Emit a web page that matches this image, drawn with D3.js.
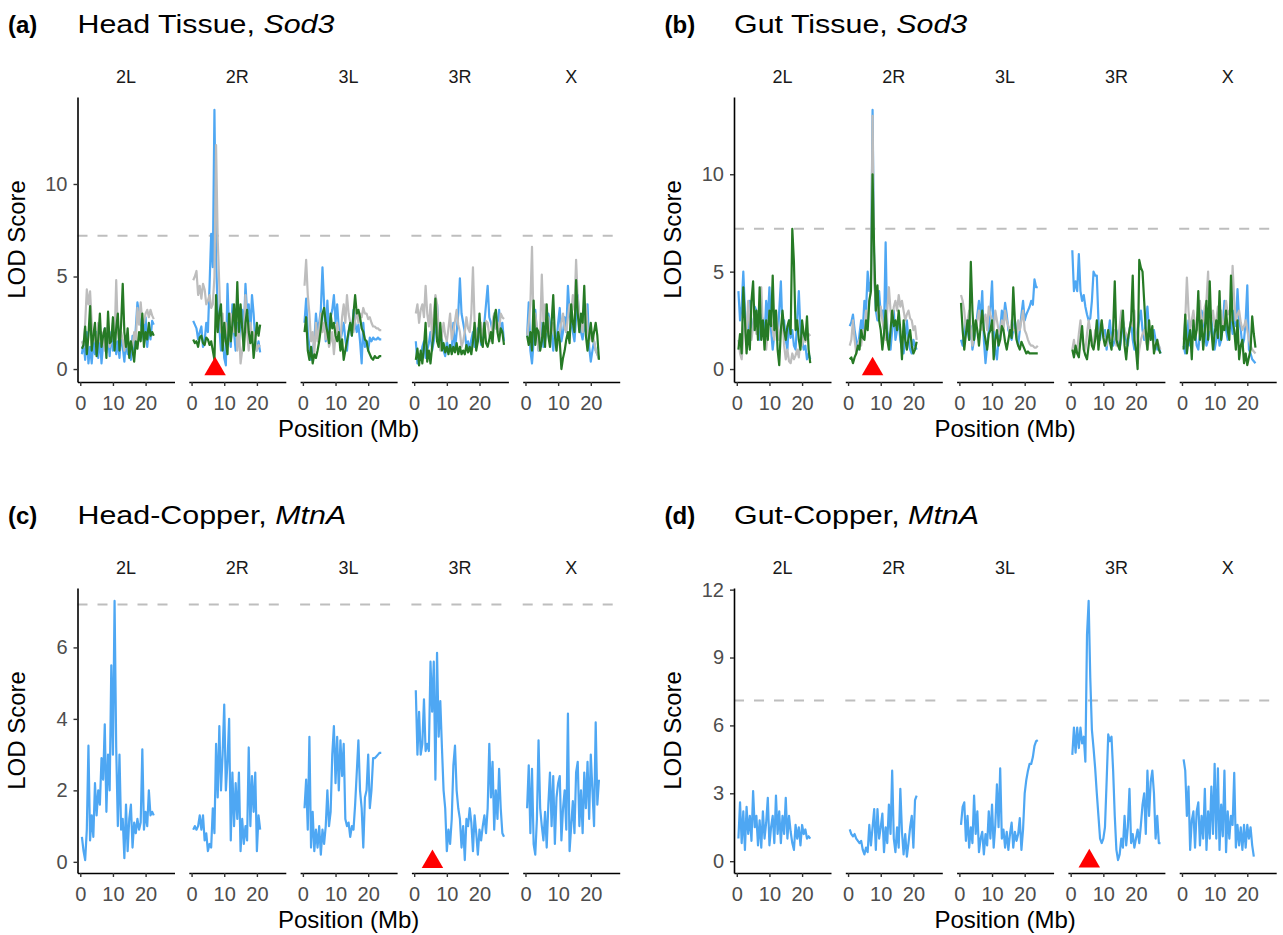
<!DOCTYPE html>
<html>
<head>
<meta charset="utf-8">
<script src="https://cdn.jsdelivr.net/npm/d3@7"></script>
<style>
  body { margin: 0; background: #fff; }
  svg { display: block; }
</style>
</head>
<body>
<div id="chart"></div>
<script>
// chromosome arms and marker positions (Mb) along each arm
const chroms = ["2L", "2R", "3L", "3R", "X"];
const pos2L = [0.5,1,1.5,2,2.5,3,3.5,4,4.5,5,5.5,6,6.5,7,7.5,8,8.5,9,9.5,10,10.5,11,11.5,12,12.5,13,13.5,14,14.5,15,15.5,16,16.5,17,17.5,18,18.5,19,19.5,20,20.5,21,21.5,22,22.5];
const pos2R = [0.5,1,1.5,2,2.5,3,3.5,4,4.5,5,5.5,6,6.5,7,7.5,8,8.5,9,9.5,10,10.5,11,11.5,12,12.5,13,13.5,14,14.5,15,15.5,16,16.5,17,17.5,18,18.5,19,19.5,20,20.5,21];
const pos3L = [0.5,1,1.5,2,2.5,3,3.5,4,4.5,5,5.5,6,6.5,7,7.5,8,8.5,9,9.5,10,10.5,11,11.5,12,12.5,13,13.5,14,14.5,15,15.5,16,16.5,17,17.5,18,18.5,19,19.5,20,20.5,21,21.5,22,22.5,23,23.5,24];
const pos3R = [0.5,1,1.5,2,2.5,3,3.5,4,4.5,5,5.5,6,6.5,7,7.5,8,8.5,9,9.5,10,10.5,11,11.5,12,12.5,13,13.5,14,14.5,15,15.5,16,16.5,17,17.5,18,18.5,19,19.5,20,20.5,21,21.5,22,22.5,23,23.5,24,24.5,25,25.5,26,26.5,27,27.5];
const posX  = [0.5,1,1.5,2,2.5,3,3.5,4,4.5,5,5.5,6,6.5,7,7.5,8,8.5,9,9.5,10,10.5,11,11.5,12,12.5,13,13.5,14,14.5,15,15.5,16,16.5,17,17.5,18,18.5,19,19.5,20,20.5,21,21.5,22,22.5];
const positions = { "2L": pos2L, "2R": pos2R, "3L": pos3L, "3R": pos3R, "X": posX };

const xTicks = [0, 10, 20];

// (a) head tissue, Sod3
const headSod3Blue = {
  "2L": [0.8,1.5,0.5,2.0,0.3,1.2,0.3,1.5,0.8,2.0,0.6,1.8,0.3,1.4,2.2,0.9,1.8,0.7,2.0,1.0,2.4,0.8,1.5,0.6,1.8,1.2,0.4,1.6,0.8,1.4,0.5,1.8,1.0,2.2,3.6,3.0,2.5,2.0,1.5,2.8,1.2,2.2,1.6,2.6,2.4],
  "2R": [2.6,2.4,2.2,1.6,2.0,2.3,1.2,1.5,2.5,2.0,4.5,7.3,5.5,14.0,6.0,3.0,2.2,1.0,2.0,0.6,0.2,4.6,2.0,1.2,3.5,2.0,1.0,2.5,1.5,2.5,3.2,2.0,4.6,3.0,3.5,2.0,4.0,3.0,1.5,1.0,1.5,0.9],
  "3L": [2.5,3.8,2.0,1.2,0.5,1.0,1.5,3.0,2.0,2.5,3.2,5.5,3.5,1.5,3.7,2.0,2.8,3.2,4.0,2.5,3.5,2.2,1.5,2.0,2.5,1.6,1.0,2.0,2.5,1.8,3.2,2.5,2.0,2.4,1.5,0.3,2.5,1.2,1.5,1.0,1.7,1.5,1.7,1.6,1.6,1.7,1.6,1.6],
  "3R": [1.5,0.3,0.8,0.5,1.2,1.5,0.6,1.0,1.4,2.0,1.0,1.5,2.2,3.5,2.0,1.2,1.6,1.0,0.7,1.5,1.0,1.3,1.0,2.5,1.0,2.0,3.0,4.9,3.0,2.5,2.0,1.2,1.5,1.0,1.6,2.0,1.2,1.5,2.2,2.0,1.3,1.8,2.5,3.5,4.5,2.8,2.5,2.0,3.0,2.2,2.5,3.2,2.0,2.5,1.5],
  "X":  [1.8,3.6,1.0,0.3,1.5,3.2,2.0,1.0,1.8,2.5,1.2,1.5,2.2,3.0,2.5,2.0,1.0,2.0,1.5,2.5,3.3,1.5,2.0,2.8,2.0,4.5,3.0,2.5,2.0,1.5,2.8,4.0,2.5,2.0,1.6,2.5,2.0,3.5,1.2,0.4,1.0,1.5,1.0,0.8,0.6]
};
const headSod3Gray = {
  "2L": [1.5,1.2,2.5,4.3,3.5,4.2,2.5,1.5,2.0,1.0,2.5,1.5,2.0,1.8,1.0,2.2,2.0,1.2,1.6,2.5,1.5,4.8,2.0,1.4,2.0,1.6,1.0,1.8,1.5,0.8,1.5,1.2,2.0,1.5,3.3,2.4,3.6,2.5,2.5,3.0,3.2,2.8,3.2,2.9,2.7],
  "2R": [4.8,5.0,5.3,4.0,4.5,3.8,4.6,4.3,3.5,3.7,4.0,3.3,3.5,5.0,12.1,7.0,4.5,2.0,3.0,1.5,2.5,1.8,1.5,3.0,2.2,2.0,3.0,1.0,2.2,0.3,1.0,1.5,4.0,2.0,1.0,2.5,1.8,2.0,1.5,1.0,1.3,1.2],
  "3L": [4.5,5.9,4.0,3.0,1.5,2.0,0.8,2.5,1.5,2.2,3.0,2.0,2.5,1.6,2.0,1.2,1.5,2.0,0.8,1.8,2.5,1.8,1.5,2.8,3.5,2.5,4.0,3.0,2.5,2.2,2.0,2.6,3.2,2.5,3.0,2.8,3.3,3.0,3.0,2.7,2.8,2.5,2.3,2.3,2.2,2.2,2.1,2.1],
  "3R": [3.0,3.5,2.5,3.2,3.5,2.8,4.5,3.0,2.3,3.5,1.5,3.0,4.0,3.5,2.2,1.0,1.8,2.5,1.8,1.5,2.2,3.0,1.6,2.0,2.6,3.2,2.4,2.0,1.2,1.5,2.0,2.8,2.2,2.0,3.0,5.5,2.5,2.0,1.5,2.2,2.5,1.8,2.0,2.6,2.5,1.8,1.5,2.5,3.0,2.2,2.5,2.0,3.0,2.8,2.7],
  "X":  [1.8,2.5,3.5,6.6,2.0,3.0,2.2,1.0,2.0,5.1,2.5,3.5,2.0,2.8,1.5,2.0,2.5,1.8,1.0,1.5,2.0,2.5,3.0,2.2,2.0,2.8,3.5,3.0,4.0,3.2,5.9,3.8,3.0,2.5,2.0,2.8,3.5,2.2,1.5,1.8,2.0,1.5,1.0,0.8,0.5]
};
const headSod3Green = {
  "2L": [1.1,1.3,2.3,0.8,1.8,3.4,1.0,1.8,2.5,0.7,1.6,3.0,1.2,1.8,2.2,0.6,3.1,1.4,1.5,2.8,1.0,2.2,3.0,1.0,2.4,4.6,2.0,1.2,2.2,0.6,1.5,1.0,0.4,1.5,1.1,2.0,1.5,3.0,1.2,2.0,1.6,2.5,1.8,2.0,1.8],
  "2R": [1.6,1.4,1.5,1.2,1.7,1.8,1.4,1.3,1.7,1.6,1.3,1.5,1.0,0.5,4.0,2.0,3.0,3.5,1.0,2.5,1.5,0.8,3.0,1.5,2.4,3.5,1.8,4.7,2.0,3.5,2.2,1.0,2.5,3.2,2.0,1.4,2.0,0.6,1.5,2.5,1.8,2.4],
  "3L": [2.0,2.8,1.0,0.5,1.2,0.3,0.8,0.6,1.0,1.5,2.2,3.0,3.3,2.5,2.0,1.4,3.0,2.2,2.5,1.8,1.5,2.0,1.0,1.6,0.5,1.0,1.5,2.0,2.5,1.8,3.0,4.0,3.0,3.2,2.8,2.2,2.0,1.6,1.5,1.0,0.8,0.6,0.5,0.7,0.6,0.6,0.7,0.7],
  "3R": [0.5,1.1,0.2,1.0,0.3,1.2,2.5,0.4,1.0,0.3,1.2,2.0,3.8,1.5,1.2,2.5,1.0,1.4,0.9,1.2,0.8,1.3,0.8,1.2,0.9,1.4,0.8,1.2,0.8,1.0,0.8,1.3,0.9,1.2,0.8,1.5,2.5,1.0,1.5,3.0,1.5,1.2,2.5,1.4,1.2,1.6,2.0,1.4,2.8,3.2,2.0,1.5,2.2,2.0,1.3],
  "X":  [1.8,1.3,2.0,1.0,3.7,1.3,2.2,2.0,1.0,1.5,2.5,1.2,3.5,1.8,1.2,2.5,4.0,1.8,1.0,2.0,1.5,0.0,0.6,1.0,1.6,2.0,1.4,3.5,2.5,2.0,4.8,3.0,2.0,3.0,2.5,4.5,1.8,1.0,1.8,2.5,1.5,2.0,2.5,1.8,0.5]
};

// (b) gut tissue, Sod3
const gutSod3Blue = {
  "2L": [4.0,2.5,3.2,5.0,3.0,2.0,1.5,3.5,2.2,2.0,3.2,3.0,1.8,1.5,2.8,2.5,1.5,3.5,2.5,4.2,2.0,1.0,1.8,2.5,1.5,3.0,4.5,2.0,2.5,1.5,1.0,2.5,1.6,2.0,1.2,1.0,2.5,4.0,2.0,1.5,1.0,1.2,0.5,0.8,0.5],
  "2R": [2.2,2.4,2.8,2.0,1.5,1.0,1.8,2.5,2.0,3.5,3.0,5.0,4.0,4.5,13.3,5.0,3.0,2.5,4.0,2.8,3.0,2.0,6.5,2.0,1.5,1.0,2.0,3.0,1.5,2.0,2.5,1.5,1.0,0.8,1.5,2.5,1.5,1.0,0.8,1.5,1.2,1.0],
  "3L": [1.5,1.2,1.8,2.5,2.0,1.5,2.2,1.0,1.5,2.0,2.8,3.5,2.5,4.0,1.5,0.3,1.2,2.0,3.0,4.5,2.0,1.0,0.5,1.5,2.0,3.0,2.5,3.4,2.8,2.0,1.8,1.5,2.0,2.5,1.8,1.2,2.0,2.8,3.5,2.5,2.8,3.0,3.2,3.5,3.3,4.6,4.2,4.2],
  "3R": [6.1,4.0,4.5,4.0,5.9,4.0,3.5,3.8,3.2,2.8,2.5,2.6,3.5,5.0,4.8,4.8,2.5,1.5,2.2,1.8,2.0,1.0,1.8,2.5,1.5,1.2,1.5,2.0,1.5,1.0,1.6,2.5,2.0,1.5,1.2,2.0,2.5,1.5,1.0,1.5,2.0,2.5,3.0,2.0,1.5,2.5,3.2,2.0,1.5,1.8,2.0,1.5,1.0,1.2,0.8],
  "X":  [1.2,0.8,1.5,2.5,1.2,1.5,2.2,2.0,1.2,1.0,1.8,3.0,2.5,2.0,1.2,1.5,2.0,2.5,1.8,1.0,1.5,2.0,1.2,1.5,2.2,3.5,2.0,1.5,2.0,2.5,1.8,3.0,2.2,4.1,2.5,2.0,1.2,1.5,2.5,4.3,1.0,0.8,0.5,0.4,0.3]
};
const gutSod3Gray = {
  "2L": [1.5,0.8,0.5,1.6,2.5,1.8,3.5,2.2,1.5,2.2,3.0,1.8,2.0,3.0,4.2,2.0,1.5,1.0,2.0,3.0,2.5,2.0,1.5,3.0,2.2,1.5,2.0,2.5,1.2,0.5,1.0,0.4,0.3,0.8,0.5,0.7,1.0,0.6,1.5,1.2,1.8,1.4,1.7,1.8,1.7],
  "2R": [1.2,1.5,2.5,1.5,0.8,1.2,1.5,1.2,2.0,1.6,3.0,2.2,3.5,4.0,13.0,4.5,3.5,3.0,2.5,3.2,2.5,2.0,1.5,3.0,4.2,3.0,2.5,3.2,3.5,3.0,3.8,3.2,3.5,3.0,2.5,2.8,3.0,2.6,2.5,2.0,2.2,1.5],
  "3L": [3.8,3.5,3.0,2.0,2.5,3.0,2.0,1.2,1.8,2.0,2.5,3.0,2.2,2.0,2.5,2.8,2.0,3.2,2.8,2.5,2.0,3.0,2.5,2.0,1.8,2.5,2.0,3.0,2.5,2.2,1.8,2.5,2.0,2.0,1.6,2.5,2.0,2.5,3.0,2.0,1.8,1.5,1.3,1.2,1.2,1.1,1.1,1.2],
  "3R": [1.0,1.5,0.8,1.0,1.8,2.5,1.5,1.2,1.0,1.8,2.5,2.0,1.5,1.2,2.0,1.6,1.5,2.0,2.5,1.8,1.5,1.2,2.0,1.6,1.5,1.8,2.0,1.2,1.5,2.2,3.0,2.5,2.0,1.8,1.5,2.0,2.5,2.2,3.0,1.5,0.3,1.0,1.5,1.8,2.0,1.5,1.0,1.5,2.0,1.6,1.0,1.2,1.5,1.2,1.0],
  "X":  [1.5,2.5,4.7,3.0,2.0,2.5,3.0,2.2,2.0,2.8,3.5,2.2,2.5,3.2,3.5,5.0,2.0,2.5,3.0,2.2,2.5,3.2,2.8,3.0,2.0,2.5,3.5,2.8,3.0,2.5,5.3,3.5,2.5,2.8,3.0,2.4,2.0,2.2,2.5,2.0,1.5,1.2,1.0,0.9,0.8]
};
const gutSod3Green = {
  "2L": [1.0,1.8,0.8,4.2,2.5,0.8,2.0,1.0,3.5,4.5,2.0,3.0,1.5,4.2,1.5,2.5,1.0,2.5,1.5,3.0,2.2,4.8,2.0,3.0,1.0,0.2,2.0,3.0,2.0,1.5,2.2,2.5,1.8,7.2,5.5,2.0,2.5,1.5,1.0,2.5,1.8,1.5,2.7,1.0,0.3],
  "2R": [0.5,0.6,0.3,0.6,0.8,1.2,1.0,2.0,1.6,1.5,2.5,2.0,3.5,4.0,10.0,6.0,3.0,4.3,2.5,2.0,1.0,1.8,3.0,1.5,1.0,2.0,3.0,2.2,2.5,2.0,3.0,2.0,0.5,2.5,1.5,1.0,1.6,2.0,1.2,0.8,1.0,1.4],
  "3L": [3.4,2.0,1.0,1.8,2.5,1.5,5.5,3.0,1.5,2.5,2.0,1.2,2.2,3.0,2.0,1.5,1.0,1.8,2.0,2.5,0.5,1.5,2.0,1.2,1.5,2.2,2.0,1.4,1.0,1.5,2.0,1.6,4.2,2.5,1.5,1.2,1.0,1.4,1.2,1.0,0.8,0.9,0.8,0.8,0.8,0.8,0.8,0.8],
  "3R": [1.0,0.6,1.2,0.8,0.6,1.5,2.2,1.0,0.7,0.5,1.2,2.0,1.2,1.0,1.5,2.5,1.0,1.8,2.5,1.6,1.2,1.5,2.0,1.4,1.0,2.0,4.5,1.5,1.2,1.0,2.0,3.0,1.2,0.5,1.5,2.0,2.5,4.8,1.5,1.0,0.0,5.6,5.2,5.0,3.5,2.0,1.0,2.5,1.5,2.2,0.8,1.2,1.5,1.0,0.8],
  "X":  [1.0,2.8,0.8,1.5,2.0,0.5,2.5,1.5,2.0,4.0,1.5,2.5,1.0,2.0,3.5,1.5,4.5,2.0,1.0,1.8,2.5,1.6,4.0,1.5,2.2,2.0,3.0,2.0,1.5,4.8,2.5,2.0,1.0,2.5,0.5,1.2,1.5,0.3,0.8,0.2,0.6,1.0,2.7,1.8,1.1]
};

// (c) head, copper, MtnA
const headCopperBlue = {
  "2L": [0.7,0.3,0.05,0.9,3.25,0.6,1.3,0.7,2.2,1.3,2.0,1.6,2.9,2.3,3.85,1.4,3.0,2.0,5.5,3.0,7.3,3.2,1.0,3.0,0.9,1.2,0.1,1.6,0.3,1.2,1.6,0.4,1.1,0.8,1.2,0.9,1.1,3.15,0.9,1.4,1.0,2.0,1.3,1.4,1.3],
  "2R": [0.9,1.0,0.9,1.0,1.3,0.9,1.3,0.6,0.8,0.3,0.5,0.4,1.5,0.8,3.3,1.8,3.8,2.0,3.0,4.4,2.0,2.8,4.0,0.6,2.5,1.0,2.2,1.2,2.5,0.3,1.2,0.5,1.0,0.6,3.2,1.0,2.4,1.4,2.5,0.3,1.3,0.9],
  "3L": [1.5,2.3,0.9,3.5,0.4,1.4,0.3,0.9,0.4,1.0,0.2,0.9,0.5,1.0,2.0,1.0,1.4,3.0,3.8,2.2,3.5,2.0,3.4,2.4,3.3,1.2,1.0,1.1,0.7,1.0,0.9,1.6,2.5,3.4,2.0,1.5,0.4,1.8,2.0,3.0,1.5,2.0,2.9,2.9,2.95,3.0,3.05,3.05],
  "3R": [4.8,3.0,4.2,3.0,3.3,4.55,3.1,3.3,3.1,5.6,4.2,5.6,2.3,5.85,3.5,4.5,3.2,2.0,1.5,0.3,0.9,0.5,1.2,2.7,3.25,2.0,1.5,1.2,0.4,1.0,0.05,1.2,1.0,1.5,1.1,0.3,1.3,0.8,0.2,0.9,0.6,1.0,1.3,0.8,1.5,3.3,1.8,2.8,0.9,2.0,1.2,2.6,1.5,0.8,0.7],
  "X":  [1.5,2.7,0.8,2.6,0.5,0.2,1.2,3.4,1.5,1.0,0.6,1.4,0.4,1.6,2.5,1.0,2.4,0.5,1.8,2.2,2.4,0.6,1.5,2.0,0.9,4.15,0.3,1.0,1.7,0.8,2.5,2.8,1.0,2.0,0.8,2.5,1.5,2.8,1.2,3.0,2.0,1.0,3.9,1.6,2.3]
};

// (d) gut, copper, MtnA
const gutCopperBlue = {
  "2L": [1.0,2.6,0.8,2.2,0.5,2.4,1.2,2.0,0.9,3.1,1.5,2.0,0.7,1.8,0.6,2.2,1.0,1.7,2.8,0.7,1.5,2.0,0.8,2.9,1.2,2.2,0.8,2.0,1.2,2.8,1.0,2.0,1.3,0.8,0.5,1.6,1.0,1.5,0.7,1.6,1.2,1.4,1.0,1.1,1.0],
  "2R": [1.4,1.2,1.1,1.2,1.0,0.9,0.8,0.9,0.5,0.3,0.6,0.4,1.6,0.7,1.5,2.3,0.5,2.3,1.0,1.5,2.1,0.4,1.5,0.8,2.5,1.2,4.0,1.0,0.4,1.5,0.6,3.2,1.3,0.3,1.2,0.2,0.8,1.5,2.0,0.6,2.7,2.9],
  "3L": [1.6,2.4,2.6,0.9,2.0,0.6,1.5,0.8,2.9,1.2,2.2,0.4,1.0,1.3,0.3,1.2,0.7,2.2,1.0,2.5,0.6,1.6,3.4,1.5,4.1,1.0,1.4,0.6,1.3,0.5,1.2,1.7,0.6,1.3,0.9,1.2,1.9,0.5,1.4,3.0,3.6,4.0,4.3,4.3,4.6,5.1,5.3,5.35],
  "3R": [4.7,5.9,4.8,5.9,5.0,5.9,5.2,5.5,4.4,10.0,11.5,8.1,5.8,5.0,4.1,3.0,2.0,1.0,0.8,1.0,1.5,3.5,5.6,5.3,5.5,4.0,2.0,0.5,0.05,0.3,1.0,0.6,2.0,0.7,1.5,3.2,0.8,1.2,0.6,1.0,1.4,0.8,1.6,2.5,3.0,1.2,4.0,2.0,3.5,4.0,3.0,1.0,2.0,0.8,0.8],
  "X":  [4.5,4.0,2.0,3.3,0.5,1.8,2.2,0.6,2.2,2.6,0.7,2.0,1.0,3.2,0.5,2.2,1.0,3.3,1.2,4.3,1.0,4.1,0.5,2.5,1.1,4.0,0.4,2.2,1.0,2.0,1.6,3.9,0.6,1.6,0.7,1.5,0.5,1.6,0.6,1.6,1.0,1.5,0.7,0.2]
};

const yTicksA = [0, 5, 10];
const yTicksB = [0, 5, 10];
const yTicksC = [0, 2, 4, 6];
const yTicksD = [0, 3, 6, 9, 12];

const colors = { blue: "#4ea7f3", gray: "#bdbdbd", green: "#267a25" };
const FONT = "'Liberation Sans', Arial, Helvetica, sans-serif";

const panels = [
  { tag: "(a)", title: "Head Tissue, ", gene: "Sod3", yTicks: yTicksA, threshold: 7.2,
    series: [["blue", headSod3Blue], ["gray", headSod3Gray], ["green", headSod3Green]],
    marker: { chrom: "2R", pos: 7.2 } },
  { tag: "(b)", title: "Gut Tissue, ", gene: "Sod3", yTicks: yTicksB, threshold: 7.2,
    series: [["blue", gutSod3Blue], ["gray", gutSod3Gray], ["green", gutSod3Green]],
    marker: { chrom: "2R", pos: 7.5 } },
  { tag: "(c)", title: "Head-Copper, ", gene: "MtnA", yTicks: yTicksC, threshold: 7.2,
    series: [["blue", headCopperBlue]],
    marker: { chrom: "3R", pos: 5.6 } },
  { tag: "(d)", title: "Gut-Copper, ", gene: "MtnA", yTicks: yTicksD, threshold: 7.1,
    series: [["blue", gutCopperBlue]],
    marker: { chrom: "3R", pos: 5.7 } }
];

document.addEventListener("DOMContentLoaded", () => {
  const width = 1283;
  const height = 935;
  const colLeft = [77.5, 734];
  const rowTop = [97, 588];
  const plotH = 285;
  const facetW = 97;
  const facetStep = 111.3;

  const svg = d3.select("#chart")
    .append("svg")
    .attr("width", width)
    .attr("height", height)
    .attr("viewBox", [0, 0, width, height])
    .attr("font-family", FONT);

  // shared x scale for all facets (ggplot style 5% expansion)
  const xExt = d3.extent(d3.merge(chroms.map(c => positions[c])));
  const xPad = (xExt[1] - xExt[0]) * 0.05;
  const x = d3.scaleLinear()
    .domain([xExt[0] - xPad, xExt[1] + xPad])
    .range([0, facetW]);

  panels.forEach((p, i) => {
    const left = colLeft[i % 2];
    const top = rowTop[Math.floor(i / 2)];

    const vals = d3.merge(p.series.flatMap(([, s]) => chroms.map(c => s[c])));
    const yExt = d3.extent(vals);
    const yPad = (yExt[1] - yExt[0]) * 0.05;
    const y = d3.scaleLinear()
      .domain([yExt[0] - yPad, yExt[1] + yPad])
      .range([plotH, 0]);

    // tag + title
    svg.append("text")
      .attr("x", left - 69.5)
      .attr("y", top - 64.5)
      .attr("font-size", 24)
      .attr("font-weight", "bold")
      .attr("fill", "#000")
      .text(p.tag);
    const t = svg.append("text")
      .attr("transform", `translate(${left},${top - 64.5}) scale(1.17,1)`)
      .attr("font-size", 26)
      .attr("fill", "#000");
    t.append("tspan").text(p.title);
    t.append("tspan").attr("font-style", "italic").text(p.gene);

    const g = svg.append("g").attr("transform", `translate(${left},${top})`);

    chroms.forEach((c, k) => {
      const f = g.append("g").attr("transform", `translate(${k * facetStep},0)`);

      f.append("text")
        .attr("x", facetW / 2)
        .attr("y", -14)
        .attr("text-anchor", "middle")
        .attr("font-size", 18)
        .attr("fill", "#1a1a1a")
        .text(c);

      f.append("line")
        .attr("x1", 0).attr("x2", facetW)
        .attr("y1", y(p.threshold)).attr("y2", y(p.threshold))
        .attr("stroke", "#bebebe")
        .attr("stroke-width", 2)
        .attr("stroke-dasharray", "10,10");

      const line = d3.line()
        .defined((d, j) => positions[c][j] !== undefined)
        .x((d, j) => x(positions[c][j]))
        .y(d => y(d));

      p.series.forEach(([col, s]) => {
        f.append("path")
          .datum(s[c])
          .attr("d", line)
          .attr("fill", "none")
          .attr("stroke", colors[col])
          .attr("stroke-width", 2.2)
          .attr("stroke-linejoin", "round");
      });

      if (p.marker.chrom === c) {
        f.append("path")
          .attr("d", d3.symbol(d3.symbolTriangle, 200)())
          .attr("transform", `translate(${x(p.marker.pos)},${y(0)})`)
          .attr("fill", "#ff0000");
      }

      f.append("g")
        .attr("transform", `translate(0,${plotH})`)
        .call(d3.axisBottom(x).tickValues(xTicks).tickSize(4).tickSizeOuter(0).tickPadding(10))
        .call(a => a.attr("font-size", 20).attr("font-family", FONT))
        .call(a => a.select(".domain").attr("stroke", "#000").attr("stroke-width", 1.6))
        .call(a => a.selectAll(".tick line").attr("stroke", "#333").attr("stroke-width", 1.4))
        .call(a => a.selectAll(".tick text").attr("fill", "#4d4d4d"));
    });

    g.append("g")
      .call(d3.axisLeft(y).tickValues(p.yTicks).tickSize(4).tickSizeOuter(0).tickPadding(6))
      .call(a => a.attr("font-size", 20).attr("font-family", FONT))
      .call(a => a.select(".domain").attr("stroke", "#000").attr("stroke-width", 1.6))
      .call(a => a.selectAll(".tick line").attr("stroke", "#333").attr("stroke-width", 1.4))
      .call(a => a.selectAll(".tick text").attr("fill", "#4d4d4d"));

    // axis titles
    svg.append("text")
      .attr("x", left + (4 * facetStep + facetW) / 2)
      .attr("y", top + plotH + 55)
      .attr("text-anchor", "middle")
      .attr("font-size", 24)
      .attr("fill", "#000")
      .text("Position (Mb)");

    svg.append("text")
      .attr("transform", `translate(${left - 53},${top + plotH / 2}) rotate(-90)`)
      .attr("text-anchor", "middle")
      .attr("font-size", 24)
      .attr("fill", "#000")
      .text("LOD Score");
  });
});
</script>
</body>
</html>
